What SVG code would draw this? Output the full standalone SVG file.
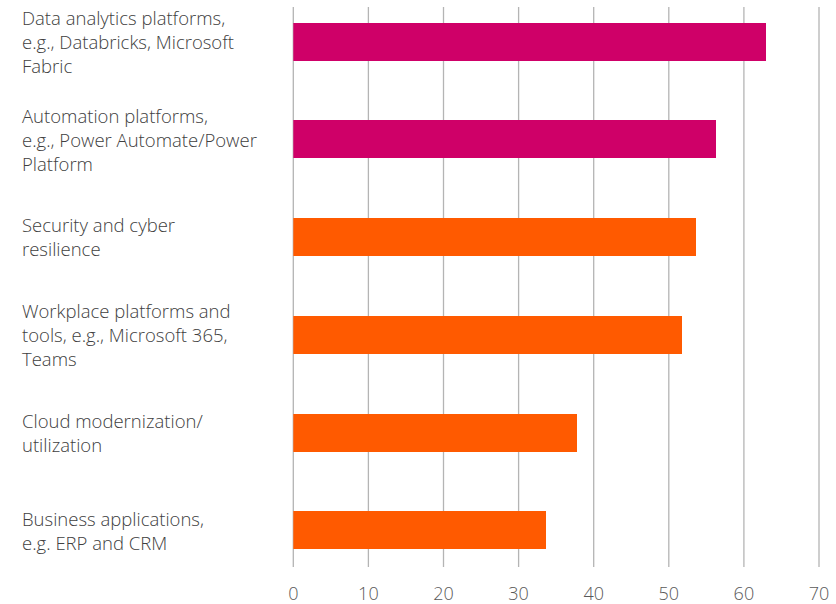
<svg xmlns="http://www.w3.org/2000/svg" width="836" height="604" viewBox="0 0 836 604">
<style>
.grid{stroke:#b4b4b4;stroke-width:1.3}
.lbl{font-family:"Open Sans","Liberation Sans",sans-serif;font-weight:300;font-size:18.5px;fill:#404040}
.tick{font-family:"Open Sans","Liberation Sans",sans-serif;font-weight:300;font-size:18px;fill:#595959;text-anchor:middle}
.m{fill:#cf0068}
.o{fill:#ff5a00}
</style>
<rect width="836" height="604" fill="#fff"/>
<g id="grid">
<line class="grid" x1="293.3" y1="7" x2="293.3" y2="567"/>
<line class="grid" x1="368.4" y1="7" x2="368.4" y2="567"/>
<line class="grid" x1="443.5" y1="7" x2="443.5" y2="567"/>
<line class="grid" x1="518.6" y1="7" x2="518.6" y2="567"/>
<line class="grid" x1="593.7" y1="7" x2="593.7" y2="567"/>
<line class="grid" x1="668.8" y1="7" x2="668.8" y2="567"/>
<line class="grid" x1="743.9" y1="7" x2="743.9" y2="567"/>
<line class="grid" x1="819" y1="7" x2="819" y2="567"/>
</g>
<g id="ticks">
<text class="tick" x="293.3" y="600">0</text>
<text class="tick" x="368.4" y="600">10</text>
<text class="tick" x="443.5" y="600">20</text>
<text class="tick" x="518.6" y="600">30</text>
<text class="tick" x="593.7" y="600">40</text>
<text class="tick" x="668.8" y="600">50</text>
<text class="tick" x="743.9" y="600">60</text>
<text class="tick" x="819" y="600">70</text>
</g>
<g id="bar1"><rect class="m" x="293.3" y="23" width="472.7" height="38"/>
<text class="lbl" x="22"><tspan x="22" y="25">Data analytics platforms,</tspan><tspan x="22" y="49">e.g., Databricks, Microsoft</tspan><tspan x="22" y="73">Fabric</tspan></text></g>
<g id="bar2"><rect class="m" x="293.3" y="120" width="422.7" height="38"/>
<text class="lbl" x="22"><tspan x="22" y="123">Automation platforms,</tspan><tspan x="22" y="147">e.g., Power Automate/Power</tspan><tspan x="22" y="171">Platform</tspan></text></g>
<g id="bar3"><rect class="o" x="293.3" y="218" width="402.7" height="38"/>
<text class="lbl" x="22"><tspan x="22" y="232">Security and cyber</tspan><tspan x="22" y="256">resilience</tspan></text></g>
<g id="bar4"><rect class="o" x="293.3" y="316" width="388.7" height="38"/>
<text class="lbl" x="22"><tspan x="22" y="318">Workplace platforms and</tspan><tspan x="22" y="342">tools, e.g., Microsoft 365,</tspan><tspan x="22" y="366">Teams</tspan></text></g>
<g id="bar5"><rect class="o" x="293.3" y="414" width="283.7" height="38"/>
<text class="lbl" x="22"><tspan x="22" y="428">Cloud modernization/</tspan><tspan x="22" y="452">utilization</tspan></text></g>
<g id="bar6"><rect class="o" x="293.3" y="511" width="252.7" height="38"/>
<text class="lbl" x="22"><tspan x="22" y="526">Business applications,</tspan><tspan x="22" y="550">e.g. ERP and CRM</tspan></text></g>
</svg>
